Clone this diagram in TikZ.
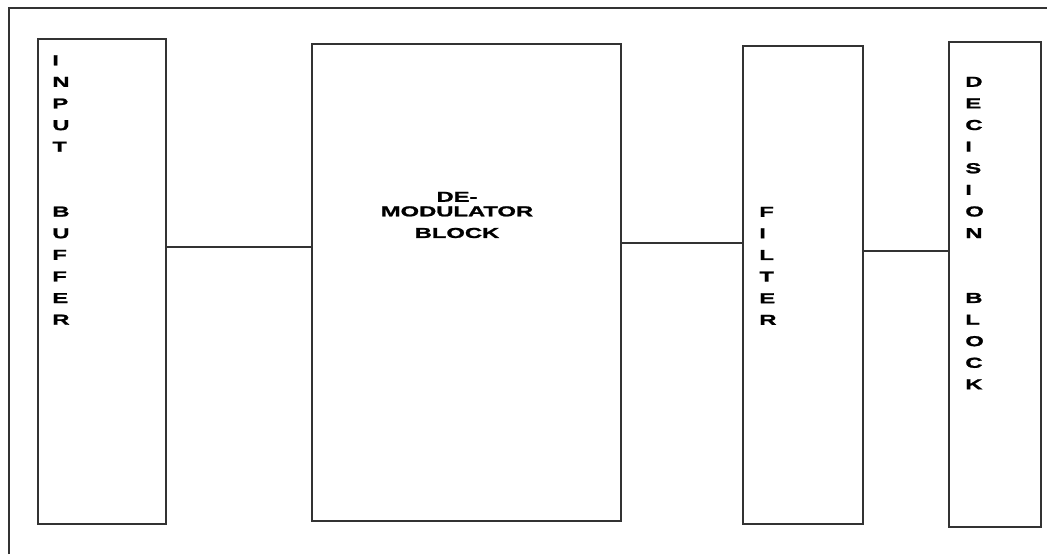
\documentclass[tikz,border=0pt]{standalone}
\usepackage{fontspec}
\setmainfont{Liberation Sans}
\newfontfamily\blockfont{Liberation Sans Bold}[FakeStretch=1.65, FakeBold=1.5]
\usetikzlibrary{positioning}
\tikzset{
  blk/.style={draw=black!80, line width=0.8pt, rectangle, inner sep=0pt},
  wire/.style={draw=black!80, line width=0.8pt},
  tag/.style={font=\blockfont\fontsize{8.2}{12.3}\selectfont, inner sep=0pt, align=left}}

\begin{document}
\begin{tikzpicture}
  \useasboundingbox (0,0) rectangle (20.94,11.08);
  % outer frame, cut off at right and bottom
  \draw[wire] (0.18,0) -- (0.18,10.92) -- (20.94,10.92);
  \node[blk, minimum width=2.56cm, minimum height=9.70cm] (inbuf) at (2.04,5.45) {};
  \node[blk, minimum width=6.18cm, minimum height=9.54cm] (demod) at (9.33,5.43) {};
  \node[blk, minimum width=2.40cm, minimum height=9.56cm] (filt) at (16.06,5.38) {};
  \node[blk, minimum width=1.84cm, minimum height=9.70cm] (dec) at (19.90,5.39) {};
  \node[tag, anchor=north west] (inbuftxt) at (1.04,9.98) {I\\N\\P\\U\\T\\~\\~\\B\\U\\F\\F\\E\\R};
  \node[tag, align=center, anchor=north] (demodtxt) at (9.14,7.25) {DE-\\[-4pt]MODULATOR\\BLOCK};
  \node[tag, anchor=north west] (filttxt) at (15.18,6.95) {F\\I\\L\\T\\E\\R};
  \node[tag, anchor=north west] (dectxt) at (19.30,9.55) {D\\E\\C\\I\\S\\I\\O\\N\\~\\~\\B\\L\\O\\C\\K};
  \coordinate (w1) at (0,6.14);
  \coordinate (w2) at (0,6.22);
  \coordinate (w3) at (0,6.06);
  \draw[wire] (inbuf.east |- w1) -- (demod.west |- w1);
  \draw[wire] (demod.east |- w2) -- (filt.west |- w2);
  \draw[wire] (filt.east |- w3) -- (dec.west |- w3);
\end{tikzpicture}
\end{document}
